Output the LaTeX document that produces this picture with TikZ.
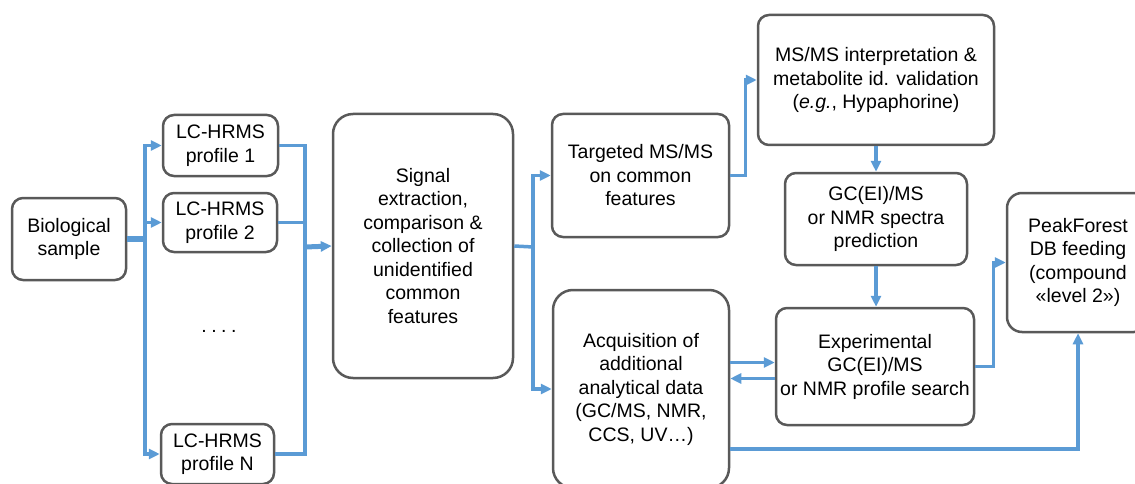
\documentclass[tikz,border=0pt]{standalone}
\usepackage{fontspec}
\setmainfont{Liberation Sans}
\usetikzlibrary{arrows.meta}
\definecolor{flowblue}{HTML}{5B9BD5}
\definecolor{boxgray}{HTML}{595959}
\tikzset{
  box/.style={draw=boxgray, line width=2.5pt, rounded corners=11pt, align=center, inner sep=0pt},
  bigbox/.style={box, rounded corners=20pt},
  link/.style={draw=flowblue, line width=3.5pt},
  flow/.style={link, ->},
}

\begin{document}
\begin{tikzpicture}[x=1pt,y=-1pt,>={Triangle[length=11pt,width=10pt]},
    font=\fontsize{19.5}{23.5}\selectfont]
  \clip (0,0) rectangle (1135,484);
  % boxes
  \node[box, minimum width=114pt, minimum height=82pt] (BioSample) at (69,239) {Biological\\sample};
  \node[box, minimum width=115pt, minimum height=61pt] (ProfileOne) at (220.5,145.5) {LC-HRMS\\profile 1};
  \node[box, minimum width=114pt, minimum height=59pt] (ProfileTwo) at (220,222.5) {LC-HRMS\\profile 2};
  \node[box, minimum width=113pt, minimum height=60pt] (ProfileN) at (217.5,454) {LC-HRMS\\profile N};
  \node (Dots) at (219,331) {.\hspace{4.5pt}.\hspace{4.5pt}.\hspace{4.5pt}.};
  \node[bigbox, minimum width=180pt, minimum height=264pt] (Signal) at (423,246)
    {Signal\\extraction,\\comparison \&\\collection of\\unidentified\\common\\features};
  \node[box, minimum width=177pt, minimum height=123pt] (Targeted) at (640.5,175.5)
    {Targeted MS/MS\\on common\\features};
  \node[box, minimum width=236pt, minimum height=130pt] (Interp) at (876,80)
    {MS/MS interpretation \&\\metabolite id. validation\\(\textit{e.g.}, Hypaphorine)};
  \node[box, minimum width=182pt, minimum height=92pt] (Prediction) at (876,219)
    {GC(EI)/MS\\or NMR spectra\\prediction};
  \node[box, minimum width=198pt, minimum height=117pt] (Experimental) at (875,366.5)
    {Experimental\\GC(EI)/MS\\or NMR profile search};
  \node[bigbox, minimum width=176pt, minimum height=198pt] (Acquisition) at (641,389)
    {Acquisition of\\additional\\analytical data\\(GC/MS, NMR,\\CCS, UV…)};
  \node[box, rounded corners=15pt, minimum width=142pt, minimum height=139pt] (PeakForest) at (1078,262.5)
    {PeakForest\\DB feeding\\(compound\\«level 2»)};
  % connectors
  \coordinate (Split) at (145,239);
  \draw[link, line width=5.5pt] (BioSample.east) -- (Split);
  \draw[flow] (Split) |- (ProfileOne.west);
  \draw[flow] (Split) |- (ProfileTwo.west);
  \draw[flow] (Split) |- (ProfileN.west);
  \coordinate (Merge) at (305,247);
  \draw[link] (ProfileOne.east) -| (Merge);
  \draw[link] (ProfileTwo.east) -| (Merge);
  \draw[link] (ProfileN.east) -| (Merge);
  \draw[flow, line width=5pt] (Merge) -- (Signal.west);
  \coordinate (Fork) at (533,247);
  \draw[link] (Signal.east) -- (Fork);
  \draw[flow] (Fork) |- (Targeted.west);
  \draw[flow] (Fork) |- (Acquisition.west);
  \draw[flow] (Targeted.east) -- ++(15,0) |- (Interp.west);
  \draw[flow] (Interp.south) -- (Prediction.north);
  \draw[flow] (Prediction.south) -- (Prediction.south |- Experimental.north);
  \draw[flow] ([yshift=4pt]Experimental.west -| Acquisition.east) -- ([yshift=4pt]Experimental.west);
  \draw[flow] ([yshift=-12pt]Experimental.west) -- ([yshift=-12pt]Experimental.west -| Acquisition.east);
  \draw[flow] (Experimental.east) -- ++(18,0) |- (PeakForest.west);
  \draw[flow] ([yshift=-60pt]Acquisition.east) -| (PeakForest.south);
\end{tikzpicture}
\end{document}
